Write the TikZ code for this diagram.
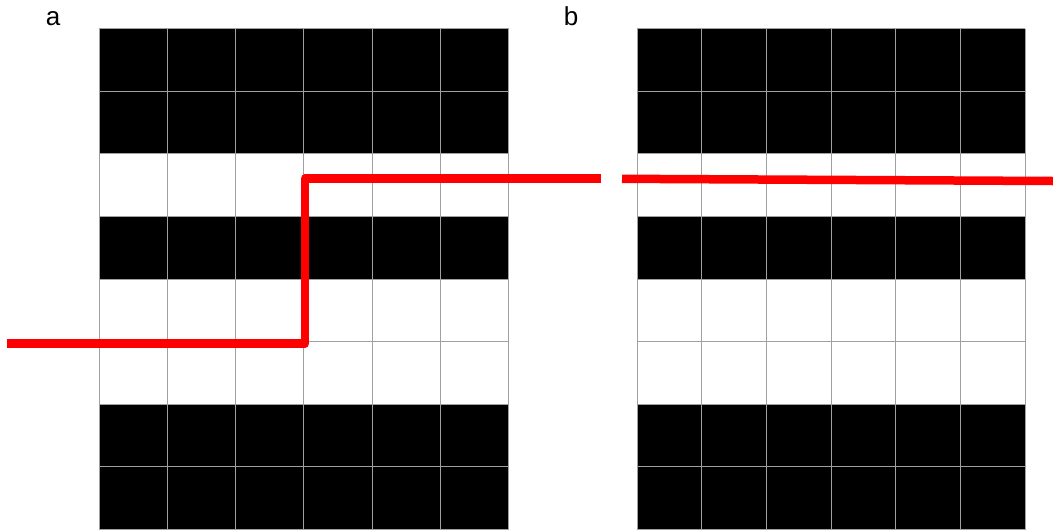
\documentclass[tikz,border=0pt]{standalone}
\usepackage{fontspec}
\setmainfont{Liberation Sans}
\definecolor{gridgray}{RGB}{160,160,160}
\definecolor{cutred}{RGB}{255,0,0}
\tikzset{
  cellgrid/.style={draw=gridgray, line width=1pt},
  cut/.style={draw=cutred, line width=8.5pt, line join=round},
  panellabel/.style={font=\fontsize{26}{26}\selectfont, anchor=base}
}
\begin{document}
\begin{tikzpicture}[x=1pt,y=-1pt]
  \useasboundingbox (0,0) rectangle (1053,531);

  % Panel a: black rows, then grid
  \foreach \r in {0,1,3,6,7}
    \fill[black] (99,{28.5+\r*62.625}) rectangle (508.5,{28.5+(\r+1)*62.625});
  \foreach \i in {0,...,6}
    \draw[cellgrid] ({99+\i*68.25},28.5) -- ({99+\i*68.25},529.5);
  \foreach \j in {0,...,8}
    \draw[cellgrid] (99,{28.5+\j*62.625}) -- (508.5,{28.5+\j*62.625});

  % Panel b: black rows, then grid
  \foreach \r in {0,1,3,6,7}
    \fill[black] (637,{28.5+\r*62.625}) rectangle (1025,{28.5+(\r+1)*62.625});
  \foreach \i in {0,...,6}
    \draw[cellgrid] ({637+\i*64.667},28.5) -- ({637+\i*64.667},529.5);
  \foreach \j in {0,...,8}
    \draw[cellgrid] (637,{28.5+\j*62.625}) -- (1025,{28.5+\j*62.625});

  % Cut lines
  \coordinate (inA) at (7,343.5);
  \coordinate (stepA) at (305,343.5);
  \coordinate (stepB) at (305,178.5);
  \coordinate (outA) at (601,178.5);
  \draw[cut] (inA) -- (stepA) -- (stepB) -- (outA);

  \coordinate (inB) at (622,178.8);
  \coordinate (outB) at (1053,181);
  \draw[cut] (inB) -- (outB);

  % Panel labels
  \node[panellabel] (labA) at (53,25) {a};
  \node[panellabel] (labB) at (571,25) {b};
\end{tikzpicture}
\end{document}
